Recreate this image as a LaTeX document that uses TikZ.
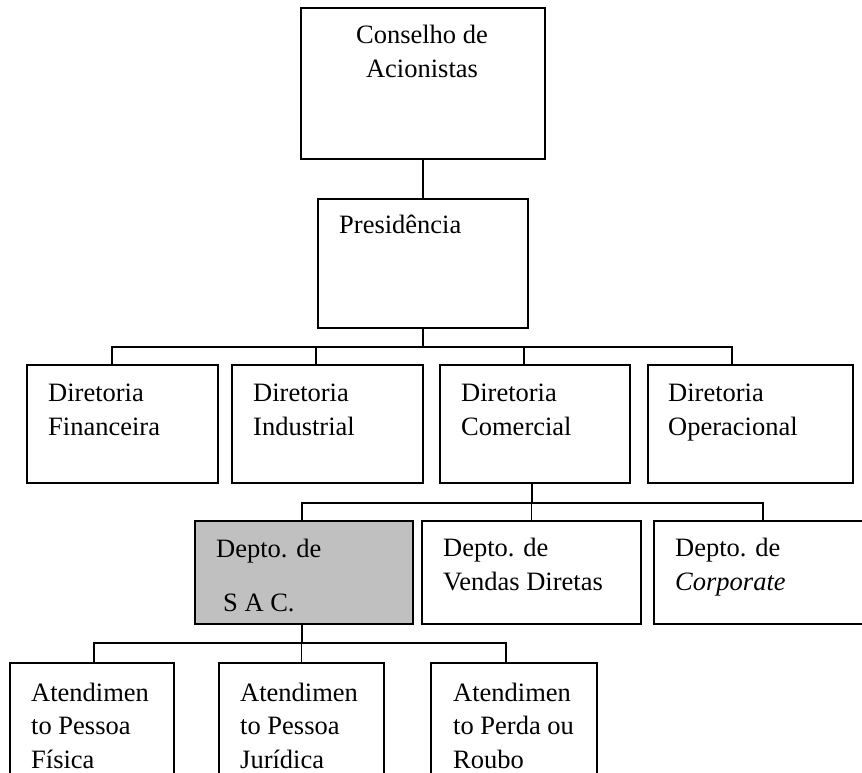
\documentclass[tikz,border=0pt]{standalone}
\usepackage{fontspec}
\setmainfont{Liberation Serif}

\definecolor{sacgray}{HTML}{C0C0C0}

\tikzset{
  box/.style={draw, line width=1.8pt, inner sep=0pt, outer sep=0pt, anchor=north west},
  lbl/.style={inner sep=0pt, anchor=base west, align=left, font=\fontsize{26.5}{33.5}\selectfont},
  link/.style={line width=1.8pt}
}

\begin{document}
\begin{tikzpicture}[x=1pt,y=-1pt]
    \useasboundingbox (0,0) rectangle (862,772);
    \clip (0,0) rectangle (862,772);

    % council and presidency
    \node[box, minimum width=244pt, minimum height=151pt] (cons) at (301,8) {};
    \node[box, minimum width=210pt, minimum height=129pt] (pres) at (318,199) {};
    % (base of a node = its last line)
    \node[lbl, anchor=base, align=center] (consT) at (422,77) {Conselho de\\Acionistas};
    \node[lbl] (presT) at (339,233) {Presidência};

    % directorates
    \node[box, minimum width=191pt, minimum height=118pt] (fin) at (27,365) {};
    \node[box, minimum width=191pt, minimum height=118pt] (ind) at (232,365) {};
    \node[box, minimum width=190pt, minimum height=118pt] (com) at (440,365) {};
    \node[box, minimum width=205pt, minimum height=118pt] (ope) at (648,365) {};
    \node[lbl] (finT) at (48,435) {Diretoria\\Financeira};
    \node[lbl] (indT) at (253,435) {Diretoria\\Industrial};
    \node[lbl] (comT) at (461,435) {Diretoria\\Comercial};
    \node[lbl] (opeT) at (668,435) {Diretoria\\Operacional};

    % departments (right one runs off the page)
    \node[box, fill=sacgray, minimum width=218pt, minimum height=103pt] (sac) at (195,521) {};
    \node[box, minimum width=219pt, minimum height=103pt] (ven) at (422,521) {};
    \node[box, minimum width=218pt, minimum height=103pt] (cor) at (654,521) {};
    \node[lbl] (sacT) at (216,611) {Depto. de\\[20.5pt]\hspace*{7pt}S A C.};
    \node[lbl] (venT) at (443,590) {Depto. de\\Vendas Diretas};
    \node[lbl] (corT) at (675,590) {Depto. de\\\textit{Corporate}};

    % customer service (cut at the bottom)
    \node[box, minimum width=164pt, minimum height=140pt] (pf) at (10,663) {};
    \node[box, minimum width=165pt, minimum height=140pt] (pj) at (219,663) {};
    \node[box, minimum width=166pt, minimum height=140pt] (pr) at (431,663) {};
    \node[lbl] (pfT) at (31,768) {Atendimen\\to Pessoa\\Física};
    \node[lbl] (pjT) at (240,768) {Atendimen\\to Pessoa\\Jurídica};
    \node[lbl] (prT) at (453,768) {Atendimen\\to Perda ou\\Roubo};

    % connectors
    \coordinate (busA) at (423,347);
    \coordinate (busB) at (532,503);
    \coordinate (busC) at (302,643);
    \draw[link] (cons.south) -- (cons.south |- pres.north);
    \draw[link] (pres.south) -- (busA);
    \draw[link] ([xshift=-10.5pt]fin.north) |- (busA) -| ([xshift=-18.5pt]ope.north);
    \draw[link] ([xshift=-11.5pt]ind.north) -- ([xshift=-11.5pt]ind.north |- busA);
    \draw[link] ([xshift=-11pt]com.north) -- ([xshift=-11pt]com.north |- busA);

    \draw[link] (busB |- com.south) -- (busB);
    \draw[link] ([xshift=-2pt]sac.north) |- (busB) -| (cor.north);
    \draw[link] (ven.north) -- (ven.north |- busB);

    \draw[link] ([xshift=-2pt]sac.south) -- (busC);
    \draw[link] ([xshift=2pt]pf.north) |- (busC) -| ([xshift=-8pt]pr.north);
    \draw[link] (pj.north) -- (pj.north |- busC);
\end{tikzpicture}
\end{document}
